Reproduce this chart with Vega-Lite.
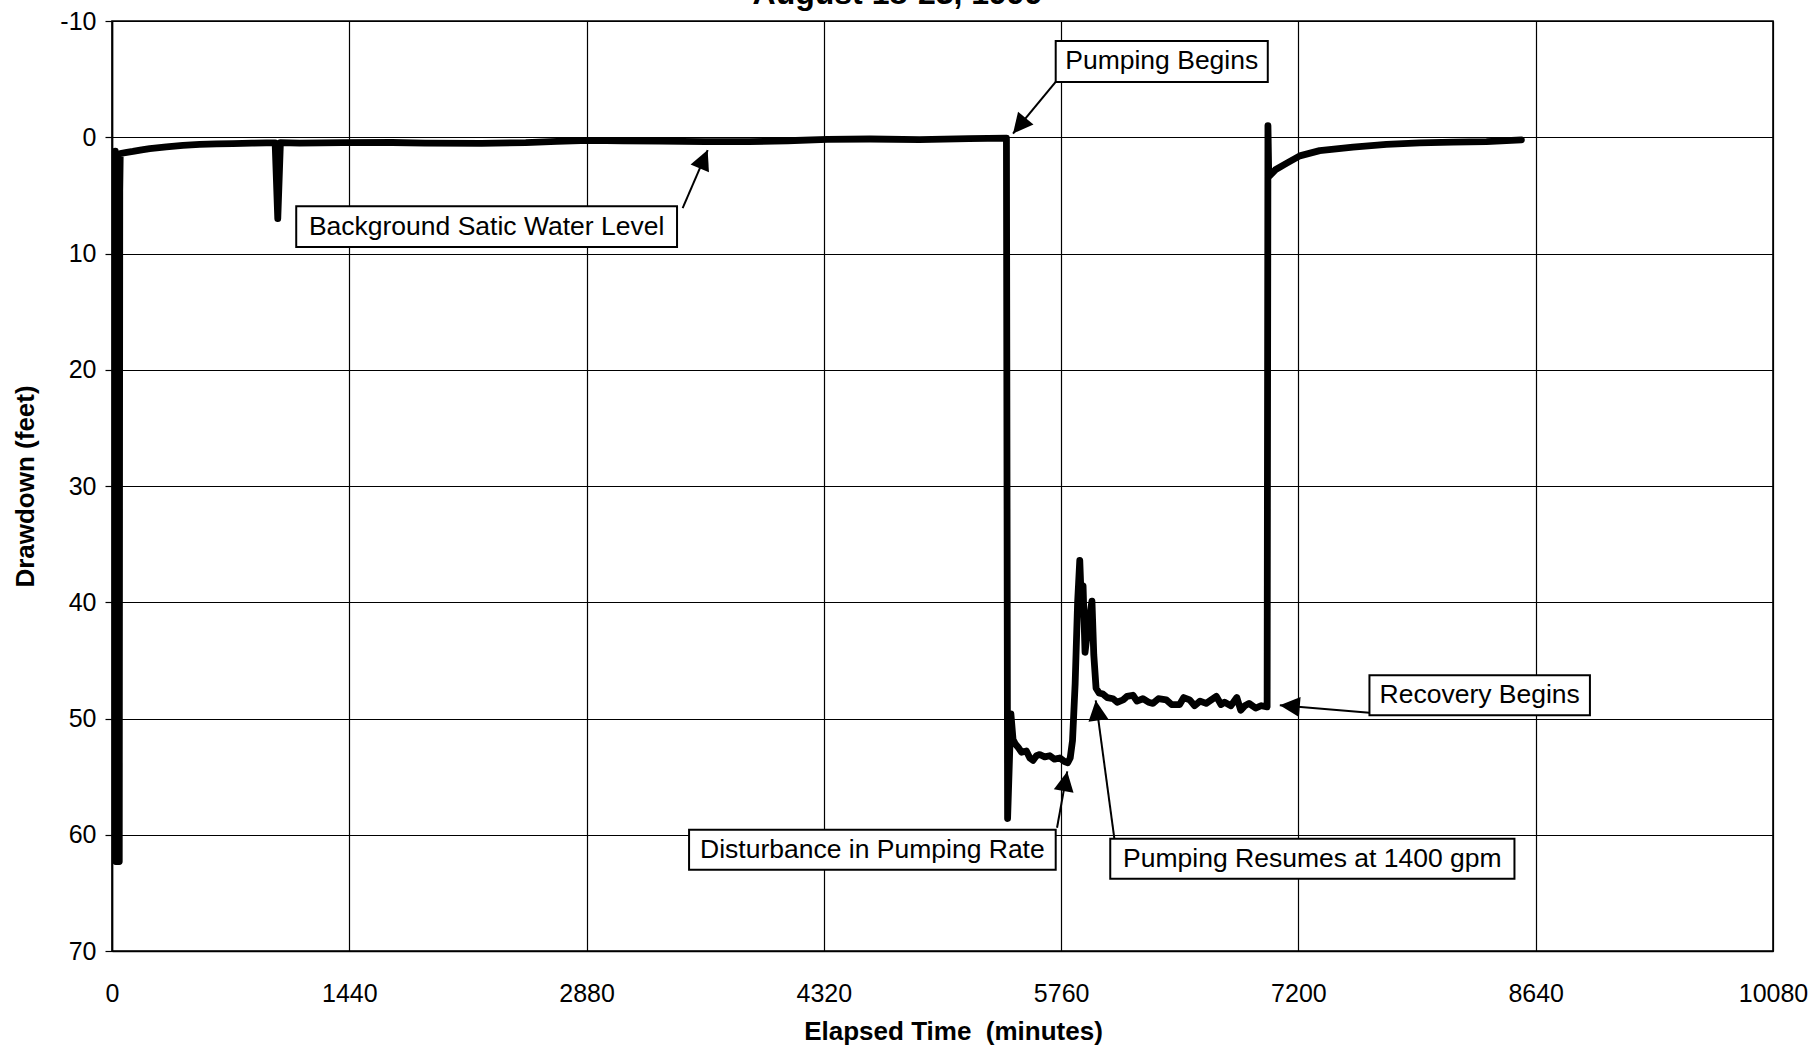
{
  "$schema": "https://vega.github.io/schema/vega-lite/v6.json",
  "width": 1661,
  "height": 930,
  "autosize": {"type": "none"},
  "padding": {"left": 112, "top": 21, "right": 42, "bottom": 97},
  "background": "white",
  "title": {
    "text": "August 18-23, 1999",
    "fontSize": 32,
    "fontWeight": "bold",
    "font": "Liberation Sans",
    "color": "#000",
    "anchor": "middle",
    "frame": "group",
    "offset": -2,
    "dx": -45
  },
  "datasets": {
    "series": [
      {"t": 20, "d": 1.2}, {"t": 23, "d": 62.3}, {"t": 44, "d": 62.3}, {"t": 47, "d": 4.6},
      {"t": 50, "d": 1.4}, {"t": 90, "d": 1.3}, {"t": 127, "d": 1.22}, {"t": 180, "d": 1.08},
      {"t": 229, "d": 0.97}, {"t": 330, "d": 0.83}, {"t": 430, "d": 0.7}, {"t": 532, "d": 0.62},
      {"t": 634, "d": 0.57}, {"t": 734, "d": 0.54}, {"t": 850, "d": 0.5}, {"t": 937, "d": 0.49},
      {"t": 990, "d": 0.48}, {"t": 1006, "d": 7.0}, {"t": 1022, "d": 0.47}, {"t": 1139, "d": 0.5},
      {"t": 1400, "d": 0.46}, {"t": 1700, "d": 0.45}, {"t": 1900, "d": 0.5}, {"t": 2242, "d": 0.52},
      {"t": 2511, "d": 0.47}, {"t": 2700, "d": 0.35}, {"t": 2893, "d": 0.27}, {"t": 3100, "d": 0.3},
      {"t": 3324, "d": 0.34}, {"t": 3600, "d": 0.38}, {"t": 3868, "d": 0.38}, {"t": 4100, "d": 0.3},
      {"t": 4341, "d": 0.18}, {"t": 4600, "d": 0.15}, {"t": 4900, "d": 0.2}, {"t": 5200, "d": 0.12},
      {"t": 5428, "d": 0.08}, {"t": 5435, "d": 58.6}, {"t": 5455, "d": 49.6}, {"t": 5468, "d": 51.8},
      {"t": 5482, "d": 52.2}, {"t": 5500, "d": 52.5}, {"t": 5520, "d": 52.9}, {"t": 5549, "d": 52.8},
      {"t": 5570, "d": 53.4}, {"t": 5589, "d": 53.6}, {"t": 5610, "d": 53.2}, {"t": 5630, "d": 53.1},
      {"t": 5660, "d": 53.3}, {"t": 5691, "d": 53.2}, {"t": 5720, "d": 53.5}, {"t": 5752, "d": 53.4},
      {"t": 5780, "d": 53.7}, {"t": 5800, "d": 53.8}, {"t": 5815, "d": 53.4}, {"t": 5829, "d": 51.9},
      {"t": 5845, "d": 47.0}, {"t": 5860, "d": 40.0}, {"t": 5873, "d": 36.4}, {"t": 5885, "d": 41.0},
      {"t": 5893, "d": 38.6}, {"t": 5905, "d": 44.3}, {"t": 5920, "d": 42.5}, {"t": 5947, "d": 39.9},
      {"t": 5958, "d": 44.5}, {"t": 5972, "d": 47.4}, {"t": 5990, "d": 47.8}, {"t": 6014, "d": 47.9},
      {"t": 6040, "d": 48.2}, {"t": 6075, "d": 48.3}, {"t": 6100, "d": 48.6}, {"t": 6136, "d": 48.4},
      {"t": 6160, "d": 48.1}, {"t": 6196, "d": 48.0}, {"t": 6220, "d": 48.5}, {"t": 6256, "d": 48.3},
      {"t": 6290, "d": 48.6}, {"t": 6317, "d": 48.7}, {"t": 6350, "d": 48.3}, {"t": 6398, "d": 48.4},
      {"t": 6430, "d": 48.8}, {"t": 6479, "d": 48.8}, {"t": 6504, "d": 48.2}, {"t": 6540, "d": 48.4},
      {"t": 6570, "d": 48.9}, {"t": 6603, "d": 48.5}, {"t": 6640, "d": 48.7}, {"t": 6702, "d": 48.1},
      {"t": 6730, "d": 48.8}, {"t": 6752, "d": 48.6}, {"t": 6790, "d": 48.9}, {"t": 6826, "d": 48.2},
      {"t": 6850, "d": 49.3}, {"t": 6875, "d": 48.9}, {"t": 6900, "d": 48.7}, {"t": 6940, "d": 49.1},
      {"t": 6975, "d": 48.9}, {"t": 7010, "d": 49.0}, {"t": 7015, "d": -1.0}, {"t": 7020, "d": 3.4},
      {"t": 7060, "d": 2.8}, {"t": 7127, "d": 2.25}, {"t": 7208, "d": 1.6}, {"t": 7329, "d": 1.15},
      {"t": 7531, "d": 0.85}, {"t": 7734, "d": 0.62}, {"t": 7936, "d": 0.48}, {"t": 8139, "d": 0.42},
      {"t": 8341, "d": 0.38}, {"t": 8553, "d": 0.22}
    ],
    "notes": [
      {"label": "Pumping Begins", "x1": 5727, "x2": 7014, "y1": -8.29, "y2": -4.76, "tailX": 5727, "tailY": -4.76, "tipX": 5468, "tipY": -0.32},
      {"label": "Background Satic Water Level", "x1": 1118, "x2": 3429, "y1": 5.93, "y2": 9.44, "tailX": 3463, "tailY": 6.1, "tipX": 3615, "tipY": 1.1},
      {"label": "Disturbance in Pumping Rate", "x1": 3502, "x2": 5727, "y1": 59.56, "y2": 63.0, "tailX": 5735, "tailY": 59.4, "tipX": 5797, "tipY": 54.55},
      {"label": "Pumping Resumes at 1400 gpm", "x1": 6058, "x2": 8511, "y1": 60.34, "y2": 63.78, "tailX": 6083, "tailY": 60.34, "tipX": 5970, "tipY": 48.45},
      {"label": "Recovery Begins", "x1": 7631, "x2": 8969, "y1": 46.29, "y2": 49.73, "tailX": 7631, "tailY": 49.5, "tipX": 7087, "tipY": 48.87}
    ]
  },
  "layer": [
    {
      "data": {"name": "series"},
      "mark": {"type": "line", "color": "#000", "strokeWidth": 6.8, "strokeCap": "round", "strokeJoin": "round"},
      "encoding": {
        "x": {
          "field": "t", "type": "quantitative", "title": "Elapsed Time\u00a0 (minutes)",
          "scale": {"domain": [0, 10080], "nice": false, "zero": false},
          "axis": {"values": [0, 1440, 2880, 4320, 5760, 7200, 8640, 10080]}
        },
        "y": {
          "field": "d", "type": "quantitative", "title": "Drawdown (feet)",
          "scale": {"domain": [-10, 70], "reverse": true, "nice": false, "zero": false},
          "axis": {"values": [-10, 0, 10, 20, 30, 40, 50, 60, 70]}
        }
      }
    },
    {
      "data": {"name": "notes"},
      "mark": {"type": "rule", "color": "#000", "strokeWidth": 2},
      "encoding": {
        "x": {"field": "tailX", "type": "quantitative", "title": "Elapsed Time\u00a0 (minutes)", "scale": {"domain": [0, 10080], "nice": false, "zero": false}, "axis": {"values": [0, 1440, 2880, 4320, 5760, 7200, 8640, 10080]}},
        "x2": {"field": "tipX"},
        "y": {"field": "tailY", "type": "quantitative", "title": "Drawdown (feet)", "scale": {"domain": [-10, 70], "reverse": true, "nice": false, "zero": false}, "axis": {"values": [-10, 0, 10, 20, 30, 40, 50, 60, 70]}},
        "y2": {"field": "tipY"}
      }
    },
    {
      "data": {"name": "notes"},
      "transform": [
        {"calculate": "atan2((datum.tipX - datum.tailX) * 1661 / 10080, -(datum.tipY - datum.tailY) * 930 / 80) * 180 / PI", "as": "heading"}
      ],
      "mark": {"type": "point", "shape": "M0,0L0.5,1L-0.5,1Z", "filled": true, "color": "#000", "opacity": 1, "size": 1600, "strokeWidth": 0},
      "encoding": {
        "x": {"field": "tipX", "type": "quantitative", "title": "Elapsed Time\u00a0 (minutes)", "scale": {"domain": [0, 10080], "nice": false, "zero": false}, "axis": {"values": [0, 1440, 2880, 4320, 5760, 7200, 8640, 10080]}},
        "y": {"field": "tipY", "type": "quantitative", "title": "Drawdown (feet)", "scale": {"domain": [-10, 70], "reverse": true, "nice": false, "zero": false}, "axis": {"values": [-10, 0, 10, 20, 30, 40, 50, 60, 70]}},
        "angle": {"field": "heading", "type": "quantitative", "scale": null}
      }
    },
    {
      "data": {"name": "notes"},
      "mark": {"type": "rect", "fill": "white", "stroke": "#000", "strokeWidth": 2},
      "encoding": {
        "x": {"field": "x1", "type": "quantitative", "title": "Elapsed Time\u00a0 (minutes)", "scale": {"domain": [0, 10080], "nice": false, "zero": false}, "axis": {"values": [0, 1440, 2880, 4320, 5760, 7200, 8640, 10080]}},
        "x2": {"field": "x2"},
        "y": {"field": "y1", "type": "quantitative", "title": "Drawdown (feet)", "scale": {"domain": [-10, 70], "reverse": true, "nice": false, "zero": false}, "axis": {"values": [-10, 0, 10, 20, 30, 40, 50, 60, 70]}},
        "y2": {"field": "y2"}
      }
    },
    {
      "data": {"name": "notes"},
      "transform": [
        {"calculate": "(datum.x1 + datum.x2) / 2", "as": "cx"},
        {"calculate": "(datum.y1 + datum.y2) / 2", "as": "cy"}
      ],
      "mark": {"type": "text", "font": "Liberation Sans", "fontSize": 26.5, "color": "#000", "align": "center", "baseline": "middle"},
      "encoding": {
        "x": {"field": "cx", "type": "quantitative", "title": "Elapsed Time\u00a0 (minutes)", "scale": {"domain": [0, 10080], "nice": false, "zero": false}, "axis": {"values": [0, 1440, 2880, 4320, 5760, 7200, 8640, 10080]}},
        "y": {"field": "cy", "type": "quantitative", "title": "Drawdown (feet)", "scale": {"domain": [-10, 70], "reverse": true, "nice": false, "zero": false}, "axis": {"values": [-10, 0, 10, 20, 30, 40, 50, 60, 70]}},
        "text": {"field": "label"}
      }
    }
  ],
  "config": {
    "font": "Liberation Sans",
    "view": {"stroke": "#000", "strokeWidth": 1.6},
    "axis": {
      "grid": true,
      "domainColor": "#000",
      "domainWidth": 1.6,
      "gridColor": "#000",
      "gridOpacity": 1,
      "gridWidth": 1.2,
      "tickColor": "#000",
      "tickWidth": 1.2,
      "labelColor": "#000",
      "labelFont": "Liberation Sans",
      "labelFontSize": 25,
      "labelFlush": false,
      "labelOverlap": false,
      "labelExpr": "'' + datum.value",
      "titleColor": "#000",
      "titleFont": "Liberation Sans",
      "titleFontSize": 26,
      "titleFontWeight": "bold"
    },
    "axisX": {"ticks": false, "tickSize": 0, "labelPadding": 30, "titlePadding": 12, "titleX": 841},
    "axisY": {"tickSize": 7, "labelPadding": 9, "titlePadding": 21}
  }
}
